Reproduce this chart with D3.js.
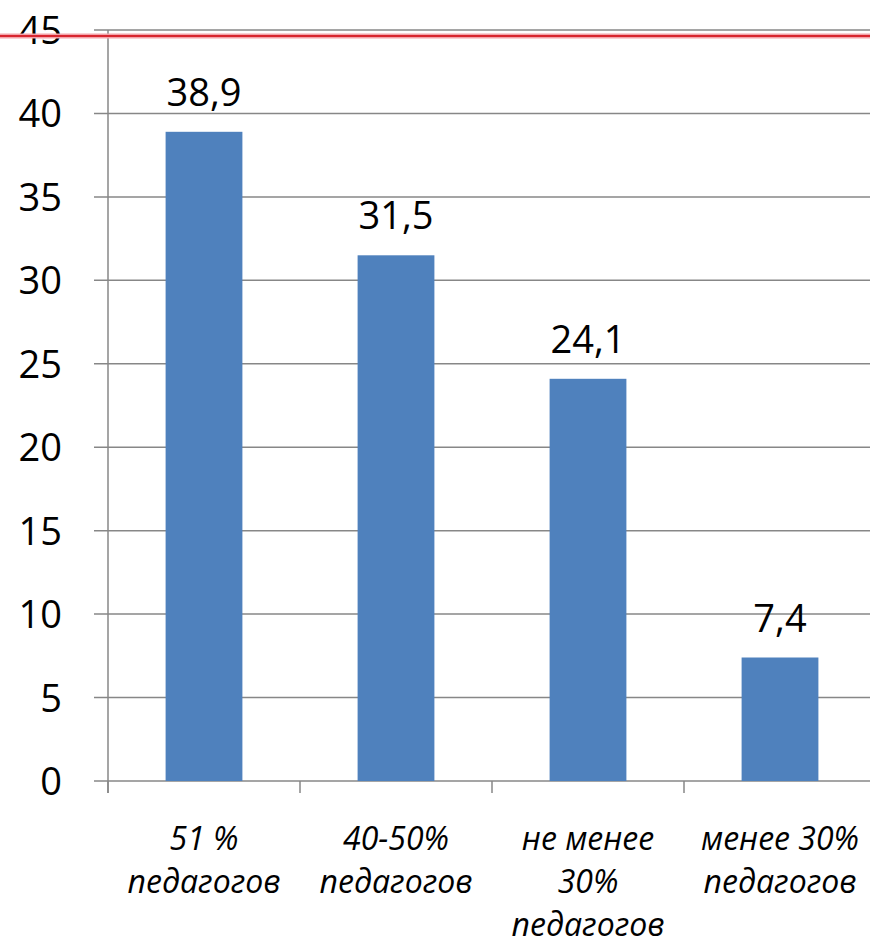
<!DOCTYPE html>
<html>
<head>
<meta charset="utf-8">
<script src="https://cdn.jsdelivr.net/npm/d3@7"></script>
<style>
  body { margin: 0; background: #fff; }
  svg { display: block; }
</style>
</head>
<body>
<svg id="chart" width="870" height="946"></svg>
<script>
const categories = [
  ["51 %", "педагогов"],
  ["40-50%", "педагогов"],
  ["не менее", "30%", "педагогов"],
  ["менее 30%", "педагогов"]
];
const values = [38.9, 31.5, 24.1, 7.4];
const yTicks = [0, 5, 10, 15, 20, 25, 30, 35, 40, 45];
const valueLabels = ["38,9", "31,5", "24,1", "7,4"];

const svg = d3.select("#chart");
const plotLeft = 108, plotRight = 876, plotTop = 30, plotBottom = 781;

const x = d3.scaleBand()
    .domain(d3.range(categories.length))
    .range([plotLeft, plotRight])
    .paddingInner(0.6)
    .paddingOuter(0.3);

const y = d3.scaleLinear()
    .domain([0, 45])
    .range([plotBottom, plotTop]);

// gridlines
svg.append("g")
    .selectAll("line")
    .data(yTicks)
    .enter()
    .append("line")
    .attr("x1", plotLeft - 14)
    .attr("x2", 870)
    .attr("y1", d => y(d))
    .attr("y2", d => y(d))
    .style("stroke", "#878787")
    .style("stroke-width", 1.5);

// y axis line
svg.append("line")
    .attr("x1", plotLeft).attr("x2", plotLeft)
    .attr("y1", plotTop).attr("y2", plotBottom + 12)
    .style("stroke", "#878787")
    .style("stroke-width", 1.5);

// x ticks at band boundaries
const bandEdge = i => plotLeft + i * (plotRight - plotLeft) / categories.length;
svg.append("g")
    .selectAll("line")
    .data(d3.range(categories.length + 1))
    .enter()
    .append("line")
    .attr("x1", bandEdge)
    .attr("x2", bandEdge)
    .attr("y1", plotBottom)
    .attr("y2", plotBottom + 12)
    .style("stroke", "#878787")
    .style("stroke-width", 1.5);

// y tick labels
svg.append("g")
    .selectAll("text")
    .data(yTicks)
    .enter()
    .append("text")
    .attr("x", 62)
    .attr("y", d => y(d) + 14)
    .attr("text-anchor", "end")
    .style("font-family", "'Open Sans', sans-serif")
    .style("font-size", "38px")
    .text(d => d);

// bars
svg.append("g")
    .selectAll("rect")
    .data(values)
    .enter()
    .append("rect")
    .attr("x", (d, i) => x(i))
    .attr("y", d => y(d))
    .attr("width", x.bandwidth())
    .attr("height", d => plotBottom - y(d))
    .style("fill", "#4f81bd");

// value labels
svg.append("g")
    .selectAll("text")
    .data(values)
    .enter()
    .append("text")
    .attr("x", (d, i) => x(i) + x.bandwidth() / 2)
    .attr("y", d => y(d) - 26)
    .attr("text-anchor", "middle")
    .style("font-family", "'Open Sans', sans-serif")
    .style("font-size", "38px")
    .text((d, i) => valueLabels[i]);

// category labels
const catG = svg.append("g")
    .selectAll("text")
    .data(categories)
    .enter()
    .append("text")
    .attr("text-anchor", "middle")
    .style("font-family", "'Open Sans', sans-serif")
    .style("font-style", "italic")
    .style("font-size", "32px");

catG.selectAll("tspan")
    .data((d, i) => d.map(line => ({ line, i })))
    .enter()
    .append("tspan")
    .attr("x", d => x(d.i) + x.bandwidth() / 2)
    .attr("y", (d, j) => 850 + j * 43)
    .text(d => d.line);

// red line near the top
svg.append("line")
    .attr("x1", 0).attr("x2", 870)
    .attr("y1", 36).attr("y2", 36)
    .style("stroke", "#f3a3aa")
    .style("stroke-width", 5);
svg.append("line")
    .attr("x1", 0).attr("x2", 870)
    .attr("y1", 36).attr("y2", 36)
    .style("stroke", "#d8262f")
    .style("stroke-width", 2);
</script>
</body>
</html>
